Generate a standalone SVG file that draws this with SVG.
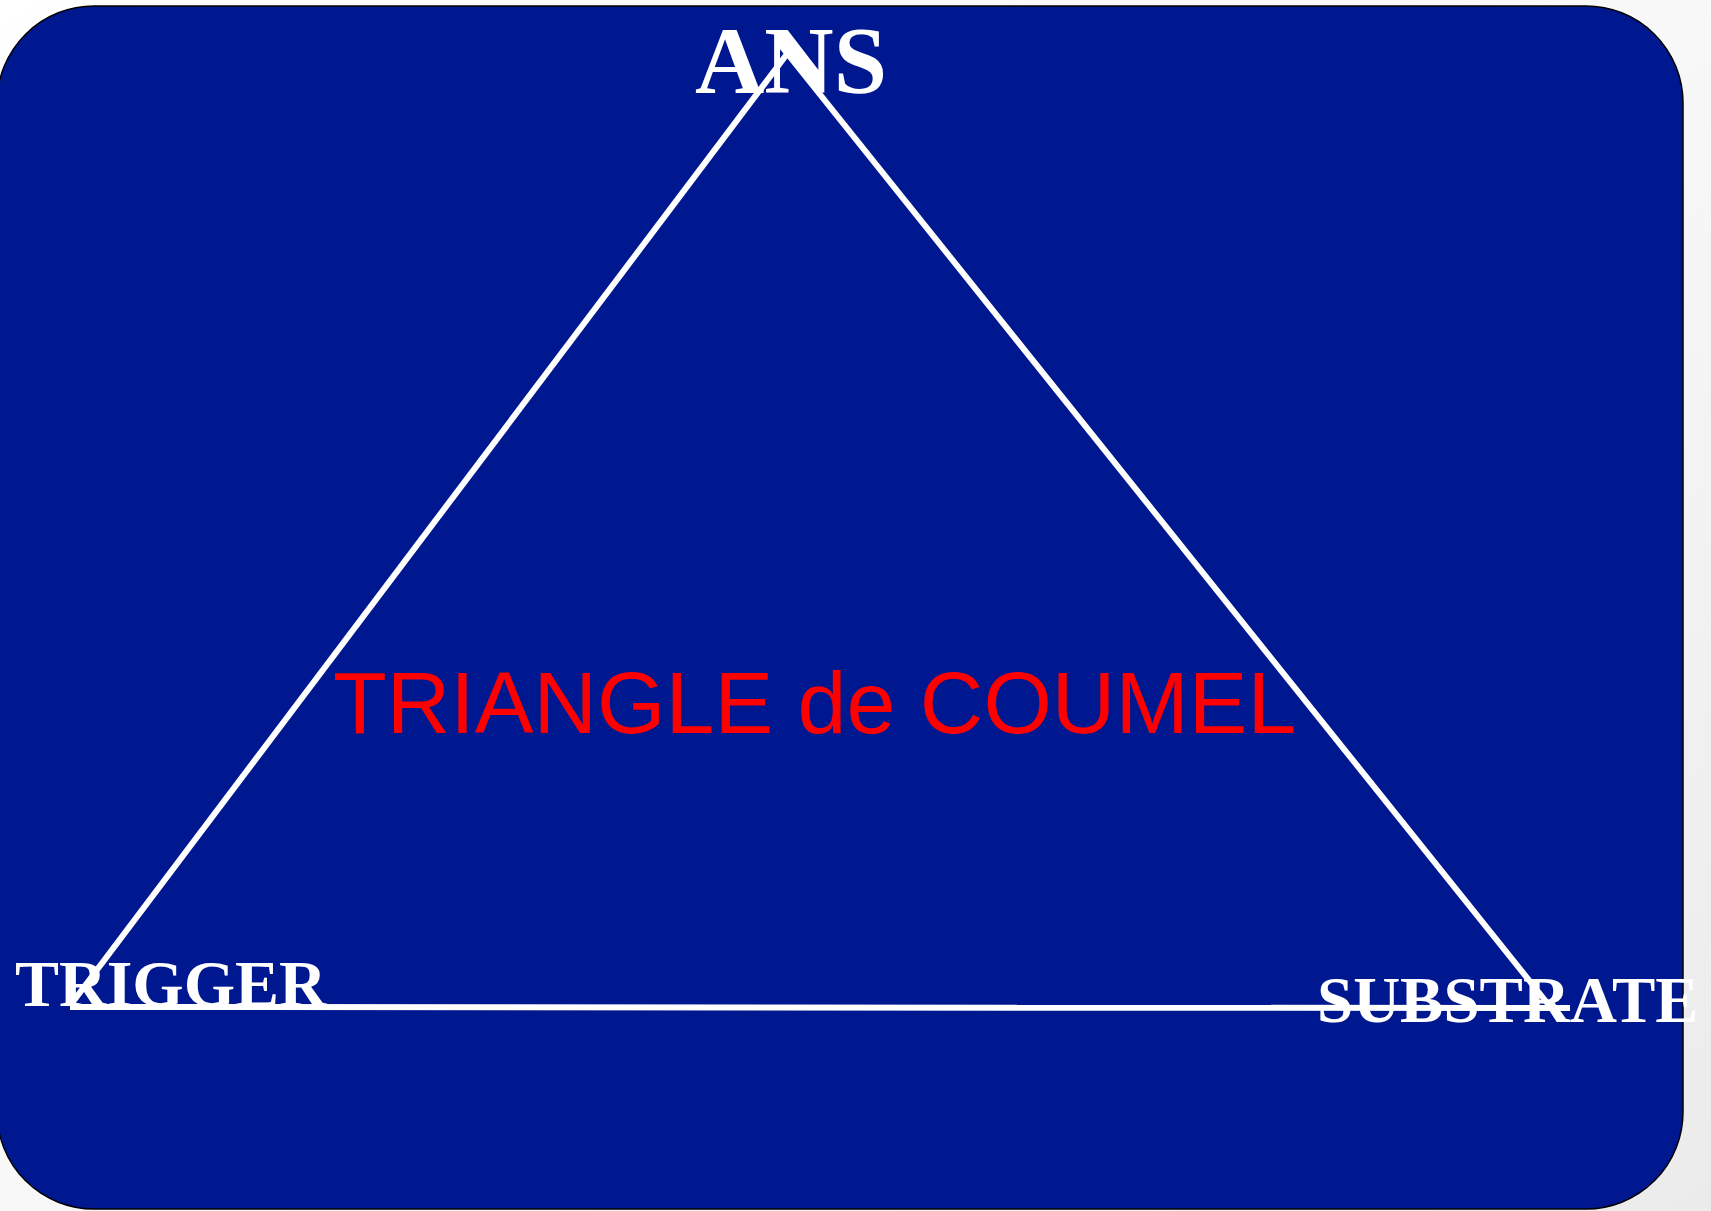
<svg xmlns="http://www.w3.org/2000/svg" width="1711" height="1211" viewBox="0 0 1711 1211">
  <defs>
    <linearGradient id="bg" x1="0" y1="0" x2="1" y2="1">
      <stop offset="0" stop-color="#ffffff"/>
      <stop offset="0.5" stop-color="#f8f8f8"/>
      <stop offset="1" stop-color="#ebebeb"/>
    </linearGradient>
  </defs>
  <style>
    .lbl { font-family: "Liberation Serif", "Times New Roman", serif; font-weight: bold; fill: #ffffff; }
    .title { font-family: "Liberation Sans", Arial, sans-serif; fill: #ff0000; }
    .edge { stroke: #ffffff; stroke-width: 6; fill: none; }
  </style>
  <rect x="0" y="0" width="1711" height="1211" fill="url(#bg)"/>
  <g id="panel">
    <rect x="-3" y="6" width="1686" height="1203" rx="97" ry="97" fill="#00188f" stroke="#000000" stroke-width="1.5"/>
  </g>
  <g id="connectors">
    <line class="edge" x1="72" y1="1003" x2="790" y2="50"/>
    <line class="edge" x1="778" y1="42" x2="1548" y2="1004"/>
    <line class="edge" x1="70" y1="1007" x2="1570" y2="1008"/>
  </g>
  <g id="node-ans">
    <text class="lbl" x="695" y="93" font-size="96">ANS</text>
  </g>
  <g id="node-trigger">
    <text class="lbl" x="15" y="1006" font-size="66">TRIGGER</text>
  </g>
  <g id="node-substrate">
    <text class="lbl" x="1317" y="1022" font-size="65">SUBSTRATE</text>
  </g>
  <g id="title">
    <text class="title" x="333" y="733" font-size="88">TRIANGLE de COUMEL</text>
  </g>
</svg>
